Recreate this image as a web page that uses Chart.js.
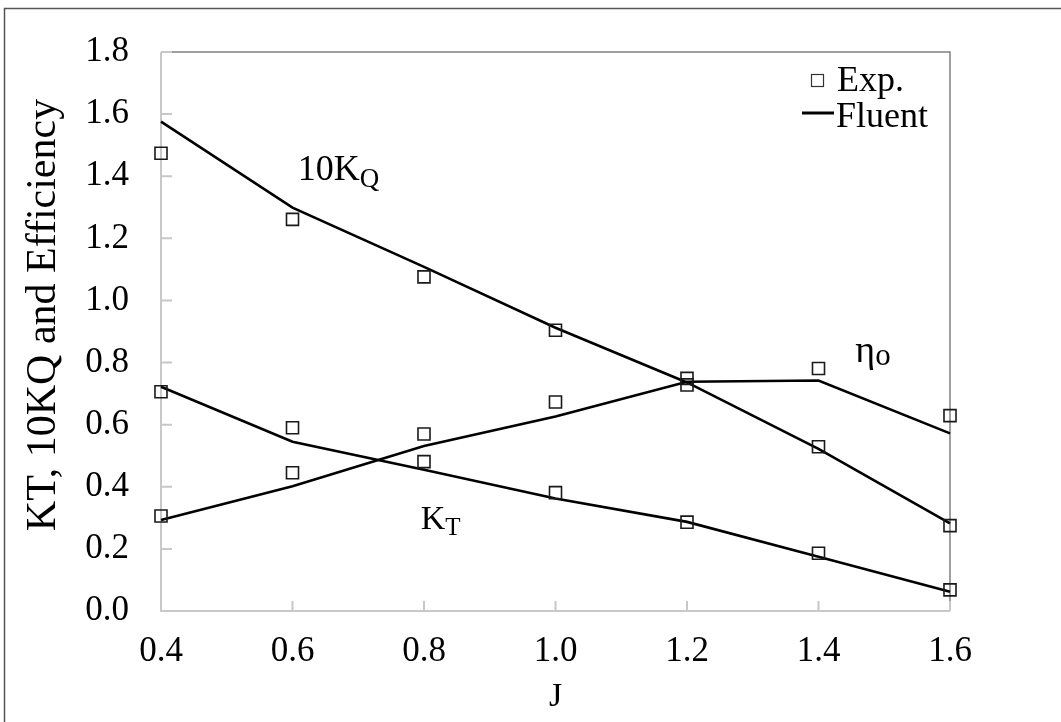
<!DOCTYPE html>
<html>
<head>
<meta charset="utf-8">
<title>KT, 10KQ and Efficiency vs J</title>
<script src="https://cdn.jsdelivr.net/npm/chart.js@4.4.1/dist/chart.umd.min.js"></script>
<style>
    html, body { margin: 0; padding: 0; background: #fff; }
    #wrap { width: 1061px; height: 722px; position: relative; }
</style>
</head>
<body>
<div id="wrap"><canvas id="perfChart" width="1061" height="722"></canvas></div>
<script>
// Advance ratio J
const advanceRatio = [0.4, 0.6, 0.8, 1.0, 1.2, 1.4, 1.6];

// Experiment (squares)
const expKT = [0.706, 0.590, 0.481, 0.381, 0.286, 0.186, 0.068];
const exp10KQ = [1.474, 1.261, 1.076, 0.904, 0.728, 0.529, 0.275];
const expEta = [0.306, 0.445, 0.570, 0.673, 0.749, 0.781, 0.629];

// Fluent CFD (lines)
const fluentKT = [0.722, 0.545, 0.455, 0.362, 0.287, 0.175, 0.062];
const fluent10KQ = [1.576, 1.299, 1.108, 0.912, 0.736, 0.522, 0.282];
const fluentEta = [0.293, 0.402, 0.531, 0.626, 0.738, 0.742, 0.572];

// Axis ticks
const xTicks = [0.4, 0.6, 0.8, 1.0, 1.2, 1.4, 1.6];
const yTicks = [0.0, 0.2, 0.4, 0.6, 0.8, 1.0, 1.2, 1.4, 1.6, 1.8];

const serif = "'Liberation Serif', 'Times New Roman', serif";

function toPoints(ys) {
    return ys.map((y, i) => ({ x: advanceRatio[i], y: y }));
}

function expSet(label, ys) {
    return {
        label: label,
        data: toPoints(ys),
        showLine: false,
        pointStyle: 'rect',
        pointRadius: 8.5,
        pointBorderWidth: 1.6,
        pointBorderColor: '#1a1a1a',
        pointBackgroundColor: 'rgba(0,0,0,0)',
        clip: false,
        order: 1
    };
}

function fluentSet(label, ys) {
    return {
        label: label,
        data: toPoints(ys),
        showLine: true,
        borderColor: '#000',
        borderWidth: 2.6,
        pointRadius: 0,
        tension: 0,
        clip: false,
        order: 2
    };
}

// Frame, inside ticks, axis titles, curve labels and legend
const decorPlugin = {
    id: 'decor',
    beforeDatasetsDraw(chart) {
        const { ctx, chartArea: a, scales } = chart;
        ctx.save();

        // outer border of the figure
        ctx.strokeStyle = '#555';
        ctx.lineWidth = 1.5;
        ctx.beginPath();
        ctx.moveTo(4.5, 722);
        ctx.lineTo(4.5, 8.5);
        ctx.lineTo(1061, 8.5);
        ctx.stroke();

        // top and right edges of the plot box
        ctx.strokeStyle = '#808080';
        ctx.lineWidth = 1.5;
        ctx.beginPath();
        ctx.moveTo(a.left, a.top);
        ctx.lineTo(a.right, a.top);
        ctx.lineTo(a.right, a.bottom);
        ctx.stroke();

        // left and bottom axis lines with inward ticks
        ctx.strokeStyle = '#c8c8c8';
        ctx.lineWidth = 2;
        ctx.beginPath();
        ctx.moveTo(a.left, a.top);
        ctx.lineTo(a.left, a.bottom);
        ctx.lineTo(a.right, a.bottom);
        yTicks.forEach(v => {
            const py = scales.y.getPixelForValue(v);
            ctx.moveTo(a.left, py);
            ctx.lineTo(a.left + 11, py);
        });
        xTicks.forEach(v => {
            const px = scales.x.getPixelForValue(v);
            ctx.moveTo(px, a.bottom);
            ctx.lineTo(px, a.bottom - 10);
        });
        ctx.stroke();
        ctx.restore();
    },
    afterDraw(chart) {
        const { ctx, chartArea: a, scales } = chart;
        const sx = scales.x, sy = scales.y;
        ctx.save();
        ctx.fillStyle = '#000';

        // y axis title
        ctx.save();
        ctx.translate(55, 315);
        ctx.rotate(-Math.PI / 2);
        ctx.font = '42px ' + serif;
        ctx.textAlign = 'center';
        ctx.textBaseline = 'alphabetic';
        ctx.fillText('KT, 10KQ and Efficiency', 0, 0);
        ctx.restore();

        // x axis title
        ctx.font = '34px ' + serif;
        ctx.textAlign = 'center';
        ctx.textBaseline = 'alphabetic';
        ctx.fillText('J', (a.left + a.right) / 2, 706);

        // curve labels with subscripts
        function subLabel(main, sub, jx, vy, mainSize, subSize, drop) {
            const px = sx.getPixelForValue(jx);
            const py = sy.getPixelForValue(vy);
            ctx.textAlign = 'left';
            ctx.textBaseline = 'alphabetic';
            ctx.font = mainSize + 'px ' + serif;
            ctx.fillText(main, px, py);
            const w = ctx.measureText(main).width;
            ctx.font = subSize + 'px ' + serif;
            ctx.fillText(sub, px + w, py + drop);
        }
        subLabel('10K', 'Q', 0.608, 1.388, 36, 27, 7);
        subLabel('K', 'T', 0.795, 0.264, 34, 25, 6);
        subLabel('\u03b7', 'o', 1.456, 0.803, 38, 31, 3);

        // legend
        const exp = chart.data.datasets[0];
        const flu = chart.data.datasets[3];
        ctx.strokeStyle = '#333';
        ctx.lineWidth = 1.2;
        ctx.strokeRect(811.5, 74.5, 12, 12);
        ctx.strokeStyle = flu.borderColor;
        ctx.lineWidth = 3;
        ctx.beginPath();
        ctx.moveTo(802, 113);
        ctx.lineTo(834, 113);
        ctx.stroke();
        ctx.font = '36px ' + serif;
        ctx.textAlign = 'left';
        ctx.fillText(exp.label, 837, 91);
        ctx.fillText(flu.label, 836, 127);

        ctx.restore();
    }
};

const ctx = document.getElementById('perfChart').getContext('2d');

const perfChart = new Chart(ctx, {
    type: 'scatter',
    data: {
        datasets: [
            expSet('Exp.', expKT),
            expSet('Exp.', exp10KQ),
            expSet('Exp.', expEta),
            fluentSet('Fluent', fluentKT),
            fluentSet('Fluent', fluent10KQ),
            fluentSet('Fluent', fluentEta)
        ]
    },
    options: {
        responsive: false,
        devicePixelRatio: 1,
        animation: false,
        layout: {
            padding: { top: 52, right: 111, left: 0, bottom: 0 }
        },
        plugins: {
            legend: { display: false },
            tooltip: { enabled: false }
        },
        scales: {
            x: {
                type: 'linear',
                min: 0.4,
                max: 1.6,
                grid: { display: false },
                border: { display: false },
                afterBuildTicks: scale => {
                    scale.ticks = xTicks.map(v => ({ value: v }));
                },
                afterFit: scale => { scale.height = 111; },
                ticks: {
                    padding: 12,
                    color: '#000',
                    maxRotation: 0,
                    autoSkip: false,
                    font: { family: serif, size: 35 },
                    callback: v => Number(v).toFixed(1)
                }
            },
            y: {
                type: 'linear',
                min: 0,
                max: 1.8,
                grid: { display: false },
                border: { display: false },
                afterBuildTicks: scale => {
                    scale.ticks = yTicks.map(v => ({ value: v }));
                },
                afterFit: scale => { scale.width = 161; },
                ticks: {
                    padding: 24,
                    color: '#000',
                    autoSkip: false,
                    font: { family: serif, size: 35 },
                    callback: v => Number(v).toFixed(1)
                }
            }
        }
    },
    plugins: [decorPlugin]
});
</script>
</body>
</html>
